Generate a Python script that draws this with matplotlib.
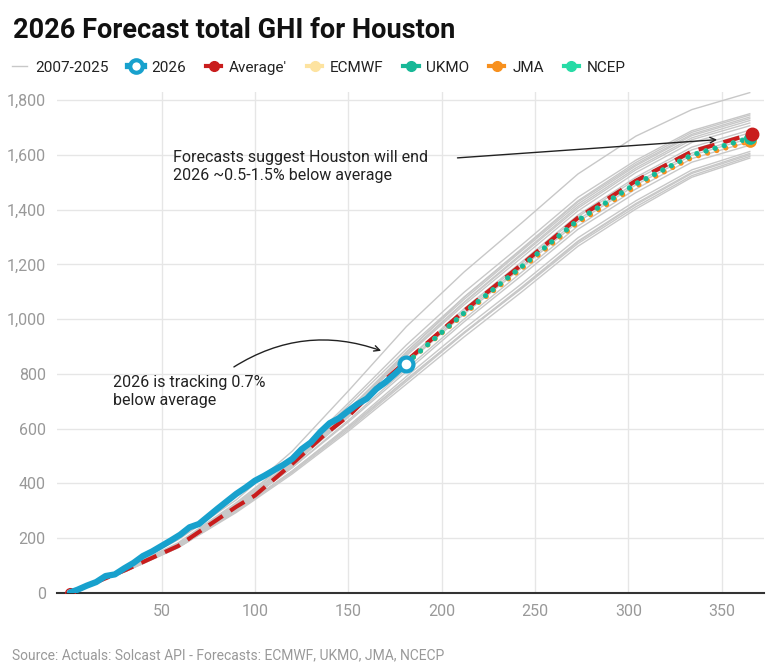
import numpy as np
import matplotlib
matplotlib.use("Agg")
import matplotlib.pyplot as plt
from matplotlib.lines import Line2D
from matplotlib.ticker import FuncFormatter

plt.rcParams['font.family'] = ['Roboto', 'DejaVu Sans']

# ---- data (cumulative GHI) ----
days_hist = [1, 31, 59, 90, 120, 151, 181, 212, 243, 273, 304, 334, 365]

hist_years = [
    [0, 95, 195, 340, 518, 745, 972, 1172, 1352, 1530, 1668, 1765, 1827],
    [0, 88, 182, 325, 492, 700, 905, 1098, 1272, 1445, 1580, 1688, 1750],
    [0, 80, 170, 305, 462, 660, 878, 1080, 1258, 1432, 1572, 1682, 1745],
    [0, 90, 184, 330, 490, 690, 890, 1080, 1255, 1428, 1565, 1675, 1738],
    [0, 84, 176, 318, 478, 676, 880, 1072, 1250, 1420, 1560, 1670, 1732],
    [0, 86, 180, 322, 482, 675, 872, 1062, 1240, 1412, 1552, 1662, 1725],
    [0, 82, 172, 312, 470, 665, 868, 1060, 1235, 1405, 1545, 1655, 1716],
    [0, 87, 178, 318, 475, 668, 865, 1052, 1225, 1395, 1535, 1645, 1706],
    [0, 83, 172, 310, 466, 655, 850, 1038, 1210, 1380, 1518, 1628, 1690],
    [0, 86, 176, 316, 472, 660, 848, 1032, 1204, 1374, 1510, 1618, 1680],
    [0, 84, 174, 312, 466, 650, 840, 1025, 1195, 1363, 1498, 1606, 1668],
    [0, 88, 178, 318, 468, 648, 836, 1018, 1188, 1355, 1490, 1598, 1660],
    [0, 82, 170, 306, 458, 636, 818, 1000, 1172, 1340, 1475, 1586, 1648],
    [0, 86, 174, 310, 458, 630, 808, 990, 1160, 1328, 1462, 1573, 1635],
    [0, 80, 166, 298, 445, 615, 790, 965, 1130, 1297, 1432, 1545, 1612],
    [0, 84, 170, 300, 444, 608, 778, 952, 1118, 1285, 1422, 1536, 1605],
    [0, 82, 168, 298, 440, 602, 772, 948, 1115, 1282, 1418, 1532, 1600],
    [0, 85, 172, 302, 446, 610, 780, 950, 1112, 1276, 1410, 1524, 1594],
    [0, 80, 166, 294, 435, 596, 762, 935, 1100, 1266, 1402, 1518, 1588],
]

days_avg = [1, 31, 59, 90, 100, 120, 137, 151, 170, 181, 212, 243, 273, 304, 334, 366]
average = [0, 85, 172, 315, 356, 472, 576, 652, 780, 846, 1030, 1200, 1370, 1505, 1612, 1676]

days_2026 = [1, 5, 10, 15, 20, 25, 30, 35, 40, 45, 50, 55, 60, 65, 70, 75, 80, 85, 90,
             95, 100, 105, 110, 115, 120, 125, 130, 135, 140, 145, 150, 155, 160, 165,
             170, 175, 181]
ghi_2026 = [2, 12, 27, 40, 62, 68, 90, 110, 135, 152, 172, 192, 213, 240, 252, 280, 308,
            335, 362, 385, 410, 428, 448, 467, 490, 525, 550, 588, 620, 638, 665, 690,
            710, 745, 770, 800, 838]

days_fc = [181, 212, 243, 273, 304, 334, 365]
ecmwf = [838, 1020, 1188, 1355, 1487, 1592, 1652]
ukmo = [838, 1022, 1192, 1360, 1493, 1598, 1660]
jma = [838, 1018, 1185, 1352, 1484, 1589, 1649]
ncep = [838, 1023, 1193, 1362, 1495, 1600, 1662]

c_hist = '#c8c8c8'
c_2026 = '#18a1cd'
c_avg = '#c91d1d'
c_ecmwf = '#fde3a0'
c_ukmo = '#17b897'
c_jma = '#f7901e'
c_ncep = '#27dba6'

fig = plt.figure(figsize=(7.75, 6.71), dpi=100)
ax = fig.add_axes([0.0735, 0.1162, 0.912, 0.747])

for vals in hist_years:
    ax.plot(days_hist, vals, color=c_hist, lw=1.0, zorder=2)

ax.plot(days_avg, average, color=c_avg, lw=3, dashes=(4, 2.2), zorder=3)
ax.plot(days_avg[0], average[0], 'o', ms=7, mfc='none', mec=c_avg, mew=1, zorder=3)

dot = dict(lw=3.5, linestyle=(0, (0.05, 1.9)), dash_capstyle='round', zorder=4)
for vals, col in [(ecmwf, c_ecmwf), (jma, c_jma), (ncep, c_ncep), (ukmo, c_ukmo)]:
    ax.plot(days_fc, vals, color=col, **dot)
    ax.plot(days_fc[-1], vals[-1], 'o', color=col, ms=8, zorder=5)
ax.plot(days_avg[-1], average[-1], 'o', color=c_avg, ms=9, zorder=5)

ax.plot(days_2026, ghi_2026, color=c_2026, lw=4.5, solid_capstyle='round', zorder=6)
ax.plot(days_2026[-1], ghi_2026[-1], 'o', ms=10, mfc='white', mec=c_2026, mew=3, zorder=7)

ax.set_xlim(-6, 372.5)
ax.set_ylim(0, 1830)
ax.set_xticks([50, 100, 150, 200, 250, 300, 350])
ax.set_yticks(np.arange(0, 1801, 200))
ax.yaxis.set_major_formatter(FuncFormatter(lambda v, p: f'{int(v):,}'))
ax.grid(True, color='#e6e6e6', lw=1)
ax.set_axisbelow(True)
for s in ['top', 'right', 'left']:
    ax.spines[s].set_visible(False)
ax.spines['bottom'].set_color('#333333')
ax.spines['bottom'].set_linewidth(1.5)
ax.tick_params(length=0, labelsize=11.5, colors='#999999', pad=8)

ax.annotate('', xy=(169, 881), xytext=(87.5, 820),
            arrowprops=dict(arrowstyle='->', color='#222222', lw=1,
                            connectionstyle='arc3,rad=-0.25'))
ax.text(24, 795, '2026 is tracking 0.7%\nbelow average', fontsize=11.5,
        color='#222222', va='top', ha='left', linespacing=1.25)

ax.annotate('', xy=(349, 1656), xytext=(207, 1588),
            arrowprops=dict(arrowstyle='->', color='#222222', lw=1))
ax.text(56, 1618, 'Forecasts suggest Houston will end\n2026 ~0.5-1.5% below average',
        fontsize=11.5, color='#222222', va='top', ha='left', linespacing=1.25)

fig.text(0.017, 0.955, '2026 Forecast total GHI for Houston', fontsize=19.5,
         fontweight='bold', color='#111111', va='center')
fig.text(0.016, 0.024, 'Source: Actuals: Solcast API - Forecasts: ECMWF, UKMO, JMA, NCECP',
         fontsize=10, color='#999999', va='center')

handles = [
    Line2D([], [], color=c_hist, lw=1),
    Line2D([], [], color=c_2026, lw=4.5, marker='o', ms=9, mfc='white', mec=c_2026, mew=3),
    Line2D([], [], color=c_avg, lw=3, marker='o', ms=7),
    Line2D([], [], color=c_ecmwf, lw=3, marker='o', ms=7),
    Line2D([], [], color=c_ukmo, lw=3, marker='o', ms=7),
    Line2D([], [], color=c_jma, lw=3, marker='o', ms=7),
    Line2D([], [], color=c_ncep, lw=3, marker='o', ms=7),
]
labels = ['2007-2025', '2026', "Average'", 'ECMWF', 'UKMO', 'JMA', 'NCEP']
fig.legend(handles, labels, loc='center left', bbox_to_anchor=(-0.002, 0.899), ncol=7,
           frameon=False, fontsize=11, handlelength=1.0, handletextpad=0.5,
           columnspacing=1.3, labelcolor='#222222')

fig.savefig('out.png', dpi=100)
